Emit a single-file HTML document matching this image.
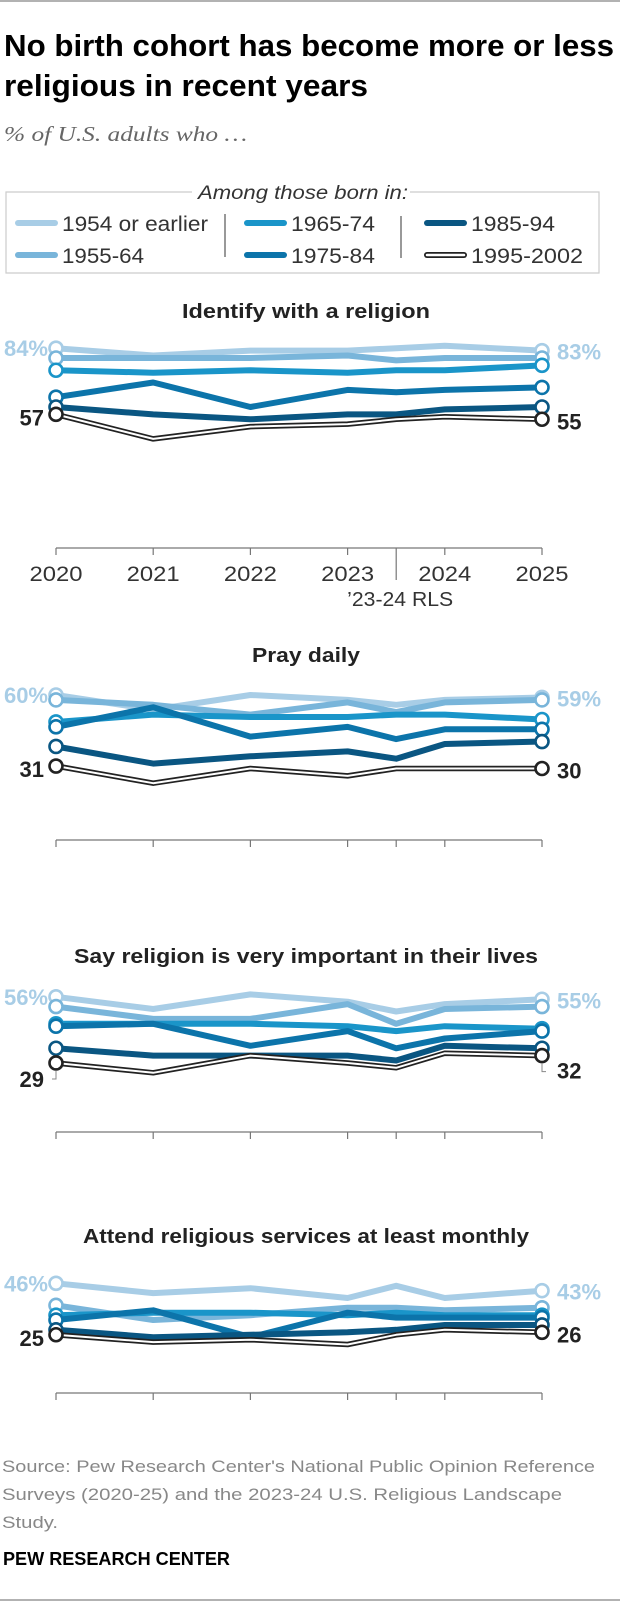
<!DOCTYPE html>
<html><head><meta charset="utf-8">
<style>
html,body{margin:0;padding:0;background:#fff;}
svg{display:block;font-family:"Liberation Sans",sans-serif;}
</style></head>
<body>
<svg id="chart" width="620" height="1602" viewBox="0 0 620 1602" xmlns="http://www.w3.org/2000/svg">
<line x1="0" y1="1" x2="620" y2="1" stroke="#999" stroke-width="1.5"/>
<text x="4" y="56" font-size="31" font-weight="bold" fill="#000" textLength="610" lengthAdjust="spacingAndGlyphs">No birth cohort has become more or less</text>
<text x="4" y="96" font-size="31" font-weight="bold" fill="#000" textLength="364" lengthAdjust="spacingAndGlyphs">religious in recent years</text>
<text x="4" y="141" font-size="21" font-style="italic" font-family="Liberation Serif, serif" fill="#666" textLength="243" lengthAdjust="spacingAndGlyphs">% of U.S. adults who …</text>
<g>
<path d="M192,192 H6 V273 H599 V192 H410" fill="none" stroke="#ccc" stroke-width="1.2"/>
<text x="303" y="199" font-size="19" font-style="italic" fill="#333" text-anchor="middle" textLength="210" lengthAdjust="spacingAndGlyphs">Among those born in:</text>
<line x1="225" y1="214" x2="225" y2="257" stroke="#333" stroke-width="1"/>
<line x1="401" y1="216" x2="401" y2="258" stroke="#333" stroke-width="1"/>
<g id="legend-items"></g>
</g>
<g id="panels"></g>
<text font-size="17" fill="#888">
<tspan x="2" y="1472" textLength="593" lengthAdjust="spacingAndGlyphs">Source: Pew Research Center's National Public Opinion Reference</tspan>
<tspan x="2" y="1500" textLength="560" lengthAdjust="spacingAndGlyphs">Surveys (2020-25) and the 2023-24 U.S. Religious Landscape</tspan>
<tspan x="2" y="1528" textLength="56" lengthAdjust="spacingAndGlyphs">Study.</tspan>
</text>
<text x="3" y="1565" font-size="18" font-weight="bold" fill="#000" textLength="227" lengthAdjust="spacingAndGlyphs">PEW RESEARCH CENTER</text>
<line x1="0" y1="1600" x2="620" y2="1600" stroke="#999" stroke-width="1.5"/>
</svg>
<script>
var cohorts = ["1954 or earlier","1955-64","1965-74","1975-84","1985-94","1995-2002"];
var surveyTimes = [2020, 2021, 2022, 2023, 2023.5, 2024, 2025];
var yearLabels = ["2020","2021","2022","2023","2024","2025"];
var yearLabelTimes = [2020, 2021, 2022, 2023, 2024, 2025];
var panelTitles = ["Identify with a religion","Pray daily","Say religion is very important in their lives","Attend religious services at least monthly"];
var identifyValues = [
 [84,81,83,83,84,85,83],
 [80,80,80,81,79,80,80],
 [75,74,75,74,75,75,77],
 [64,70,60,67,66,67,68],
 [60,57,55,57,57,59,60],
 [57,47,52,53,55,56,55]];
var prayValues = [
 [60,54,60,58,56,58,59],
 [58,56,52,57,53,57,58],
 [49,52,51,51,52,52,50],
 [47,55,43,47,42,46,46],
 [39,32,35,37,34,40,41],
 [31,24,30,27,30,30,30]];
var importantValues = [
 [56,51,57,54,50,53,55],
 [52,47,47,53,45,51,52],
 [45,45,45,44,42,44,43],
 [44,45,36,42,35,39,42],
 [35,32,32,32,30,36,35],
 [29,25,32,29,27,33,32]];
var attendValues = [
 [46,42,44,40,45,40,43],
 [37,31,33,36,36,35,36],
 [33,34,34,33,34,33,33],
 [31,35,24,34,32,32,32],
 [27,24,25,26,27,29,29],
 [25,22,23,21,25,27,26]];
var panelValues = [identifyValues, prayValues, importantValues, attendValues];

var colors = ["#a8cde6","#79b5da","#1a95c9","#0c74aa","#0a5682","#222"];
var legendWidths = [146, 82, 84, 84, 84, 112];
var panelTitleWidths = [248, 108, 464, 446];
var panelLayout = [
 {title:311, axis:548, zero:554},
 {title:655, axis:840, zero:842},
 {title:956, axis:1132, zero:1134},
 {title:1236, axis:1393, zero:1396}];
var NS = "http://www.w3.org/2000/svg";
function mk(tag, attrs, parent){var e=document.createElementNS(NS,tag);for(var k in attrs)e.setAttribute(k,attrs[k]);parent.appendChild(e);return e;}
function xScale(t){return 56 + (t-2020)*97.2;}
function yScale(p, v){return panelLayout[p].zero - v*2.45;}

var leg = document.getElementById('legend-items');
var legPos = [[18,223],[18,255],[247,223],[247,255],[427,223],[427,255]];
cohorts.forEach(function(c,i){
  var g = mk('g',{},leg);
  
  
  var px=legPos[i][0], py=legPos[i][1];
  if(i===5){
    mk('line',{x1:px,y1:py,x2:px+37,y2:py,stroke:'#222','stroke-width':6,'stroke-linecap':'round'},g);
    mk('line',{x1:px,y1:py,x2:px+37,y2:py,stroke:'#fff','stroke-width':2.5,'stroke-linecap':'round'},g);
  } else {
    mk('line',{x1:px,y1:py,x2:px+37,y2:py,stroke:colors[i],'stroke-width':6,'stroke-linecap':'round'},g);
  }
  var t = mk('text',{x:px+44,y:py+8,'font-size':21,fill:'#333',textLength:legendWidths[i],lengthAdjust:'spacingAndGlyphs'},g);
  t.textContent = c;
});

var panels = document.getElementById('panels');
panelValues.forEach(function(vals,p){
  var L = panelLayout[p];
  var g = mk('g',{},panels);
  
  
  var tt = mk('text',{x:306,y:L.title+7,'font-size':20,'font-weight':'bold',fill:'#222','text-anchor':'middle',textLength:panelTitleWidths[p],lengthAdjust:'spacingAndGlyphs'},g);
  
  
  tt.textContent = panelTitles[p];
  var ax = mk('g',{},g);
  
  
  mk('line',{x1:xScale(2020),y1:L.axis,x2:xScale(2025),y2:L.axis,stroke:'#777','stroke-width':1.2},ax);
  surveyTimes.forEach(function(t,i){
    var len = (p===0 && t===2023.5) ? 32 : 7;
    mk('line',{x1:xScale(t),y1:L.axis,x2:xScale(t),y2:L.axis+len,stroke:'#777','stroke-width':1.2},ax);
  });
  if(p===0){
    yearLabels.forEach(function(lab,i){
      var t = mk('text',{x:xScale(yearLabelTimes[i]),y:L.axis+33,'font-size':21,fill:'#333','text-anchor':'middle',textLength:53,lengthAdjust:'spacingAndGlyphs'},ax);
      
      
      t.textContent = lab;
    });
    var r = mk('text',{x:xScale(2023.5)+4,y:L.axis+58,'font-size':20,fill:'#333','text-anchor':'middle',textLength:106,lengthAdjust:'spacingAndGlyphs'},ax);
    
    
    r.textContent = "\u201923-24 RLS";
  }
  vals.forEach(function(series,s){
    var sg = mk('g',{},g);
    
    
    var pts = series.map(function(v,i){return xScale(surveyTimes[i]).toFixed(1)+','+yScale(p,v).toFixed(1);}).join(' ');
    if(s===5){
      mk('polyline',{points:pts,fill:'none',stroke:'#222','stroke-width':5.5,'stroke-linejoin':'round'},sg);
      mk('polyline',{points:pts,fill:'none',stroke:'#fff','stroke-width':2,'stroke-linejoin':'round'},sg);
    } else {
      mk('polyline',{points:pts,fill:'none',stroke:colors[s],'stroke-width':6,'stroke-linejoin':'round'},sg);
    }
    [0, series.length-1].forEach(function(i){
      var c = mk('circle',{cx:xScale(surveyTimes[i]),cy:yScale(p,series[i]),r:6.5,fill:'#fff',stroke:colors[s],'stroke-width':2.6},sg);
      
      
    });
  });
  var top = vals[0], bot = vals[5];
  var n = top.length-1;
  var lblOff = (p===2)?16:3;
  function lab(x,y,txt,col,anchor){
    var t = mk('text',{x:x,y:y+8,'font-size':22,'font-weight':'bold',fill:col,'text-anchor':anchor},g);
    
    
    t.textContent = txt;
  }
  lab(48, yScale(p,top[0]), top[0]+'%', colors[0], 'end');
  lab(557, yScale(p,top[n])+1, top[n]+'%', colors[0], 'start');
  lab(44, yScale(p,bot[0])+lblOff, String(bot[0]), '#222', 'end');
  lab(557, yScale(p,bot[n])+lblOff-1, String(bot[n]), '#222', 'start');
  if(p===2){
    mk('path',{d:'M'+(xScale(2020))+','+(yScale(p,bot[0])+8)+' v8 h-4',fill:'none',stroke:'#888','stroke-width':1},g);
    mk('path',{d:'M'+(xScale(2025))+','+(yScale(p,bot[n])+8)+' v8 h4',fill:'none',stroke:'#888','stroke-width':1},g);
  }
});
</script>
</body></html>
